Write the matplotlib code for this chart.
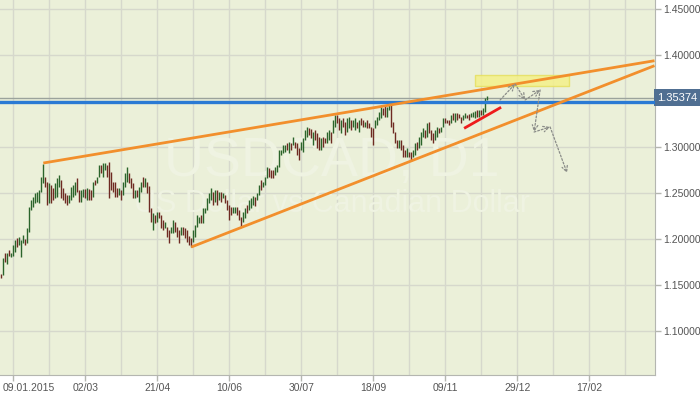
import matplotlib
matplotlib.use("Agg")
import matplotlib.pyplot as plt
from matplotlib.transforms import blended_transform_factory, ScaledTranslation

plt.rcParams['font.family'] = ['Liberation Sans', 'DejaVu Sans']

# daily USDCAD bars, 01.01.2015 .. 08.12.2015
highs = [
    1.162, 1.179, 1.185, 1.185, 1.188, 1.185, 1.193, 1.199, 1.201, 1.202,
    1.199, 1.204, 1.200, 1.212, 1.235, 1.242, 1.246, 1.250, 1.251, 1.253,
    1.267, 1.282, 1.267, 1.262, 1.261, 1.259, 1.255, 1.261, 1.266, 1.270,
    1.264, 1.255, 1.250, 1.248, 1.248, 1.257, 1.259, 1.262, 1.266, 1.253,
    1.253, 1.254, 1.254, 1.255, 1.254, 1.253, 1.262, 1.264, 1.267, 1.280,
    1.280, 1.283, 1.283, 1.280, 1.284, 1.273, 1.262, 1.262, 1.255, 1.255,
    1.253, 1.262, 1.272, 1.278, 1.272, 1.266, 1.261, 1.253, 1.253, 1.257,
    1.262, 1.267, 1.266, 1.262, 1.258, 1.234, 1.228, 1.226, 1.229, 1.229,
    1.226, 1.221, 1.218, 1.213, 1.210, 1.213, 1.221, 1.218, 1.213, 1.210,
    1.213, 1.213, 1.212, 1.210, 1.203, 1.201, 1.210, 1.215, 1.226, 1.224,
    1.226, 1.234, 1.234, 1.245, 1.250, 1.255, 1.251, 1.253, 1.253, 1.251,
    1.251, 1.250, 1.248, 1.242, 1.237, 1.235, 1.235, 1.235, 1.235, 1.232,
    1.224, 1.229, 1.234, 1.237, 1.242, 1.245, 1.247, 1.246, 1.250, 1.259,
    1.264, 1.262, 1.267, 1.278, 1.277, 1.275, 1.275, 1.278, 1.280, 1.297,
    1.297, 1.302, 1.302, 1.304, 1.305, 1.304, 1.311, 1.305, 1.304, 1.299,
    1.305, 1.310, 1.318, 1.322, 1.321, 1.320, 1.316, 1.318, 1.315, 1.311,
    1.310, 1.311, 1.310, 1.316, 1.318, 1.316, 1.329, 1.335, 1.335, 1.332,
    1.329, 1.332, 1.327, 1.332, 1.333, 1.329, 1.329, 1.332, 1.327, 1.329,
    1.332, 1.329, 1.327, 1.329, 1.326, 1.322, 1.321, 1.329, 1.333, 1.338,
    1.343, 1.342, 1.346, 1.343, 1.346, 1.346, 1.327, 1.316, 1.308, 1.308,
    1.308, 1.302, 1.297, 1.299, 1.295, 1.295, 1.297, 1.304, 1.305, 1.311,
    1.316, 1.321, 1.318, 1.326, 1.327, 1.318, 1.315, 1.318, 1.322, 1.321,
    1.322, 1.332, 1.332, 1.329, 1.329, 1.335, 1.337, 1.337, 1.337, 1.336,
    1.333, 1.335, 1.337, 1.335, 1.336, 1.337, 1.338, 1.339, 1.340, 1.340,
    1.340, 1.342, 1.353, 1.355,
]
lows = [
    1.158, 1.161, 1.175, 1.173, 1.181, 1.180, 1.181, 1.186, 1.191, 1.193,
    1.180, 1.196, 1.193, 1.196, 1.208, 1.232, 1.235, 1.239, 1.240, 1.239,
    1.251, 1.261, 1.256, 1.237, 1.239, 1.239, 1.242, 1.245, 1.246, 1.256,
    1.245, 1.242, 1.239, 1.237, 1.239, 1.242, 1.246, 1.248, 1.251, 1.240,
    1.240, 1.246, 1.245, 1.242, 1.242, 1.242, 1.246, 1.259, 1.261, 1.267,
    1.272, 1.267, 1.275, 1.267, 1.245, 1.253, 1.251, 1.246, 1.246, 1.248,
    1.242, 1.248, 1.256, 1.262, 1.261, 1.255, 1.245, 1.245, 1.246, 1.240,
    1.251, 1.256, 1.256, 1.250, 1.229, 1.218, 1.210, 1.217, 1.218, 1.223,
    1.212, 1.210, 1.212, 1.202, 1.196, 1.207, 1.207, 1.208, 1.202, 1.196,
    1.204, 1.204, 1.201, 1.197, 1.193, 1.191, 1.197, 1.202, 1.213, 1.217,
    1.217, 1.217, 1.228, 1.232, 1.239, 1.242, 1.237, 1.240, 1.237, 1.242,
    1.240, 1.245, 1.239, 1.232, 1.221, 1.226, 1.228, 1.228, 1.226, 1.221,
    1.213, 1.218, 1.223, 1.228, 1.232, 1.234, 1.237, 1.236, 1.242, 1.248,
    1.253, 1.257, 1.259, 1.266, 1.267, 1.266, 1.266, 1.270, 1.273, 1.278,
    1.291, 1.293, 1.295, 1.297, 1.293, 1.297, 1.302, 1.299, 1.291, 1.286,
    1.297, 1.295, 1.308, 1.311, 1.313, 1.310, 1.302, 1.308, 1.299, 1.297,
    1.297, 1.300, 1.304, 1.304, 1.308, 1.304, 1.315, 1.322, 1.326, 1.318,
    1.315, 1.322, 1.313, 1.316, 1.321, 1.318, 1.322, 1.318, 1.321, 1.316,
    1.324, 1.322, 1.322, 1.321, 1.321, 1.311, 1.302, 1.321, 1.324, 1.329,
    1.331, 1.335, 1.333, 1.333, 1.340, 1.322, 1.315, 1.304, 1.299, 1.299,
    1.297, 1.289, 1.289, 1.289, 1.289, 1.285, 1.289, 1.291, 1.297, 1.299,
    1.302, 1.311, 1.310, 1.311, 1.315, 1.308, 1.304, 1.308, 1.311, 1.315,
    1.316, 1.322, 1.326, 1.326, 1.324, 1.326, 1.329, 1.327, 1.329, 1.332,
    1.326, 1.329, 1.332, 1.332, 1.329, 1.333, 1.333, 1.332, 1.333, 1.333,
    1.335, 1.335, 1.338, 1.351,
]
# u = closed higher (green), d = closed lower (red)
directions = "".join([
    "dududuuudu", "uuduuuuuuu", "uuddudduuu", "dddduuuudd", "uududduduu",
    "duuddddddu", "duuudddudu", "ududddudud", "ddudduuddd", "uddddduuuu",
    "duuuuududu", "dudddduudd", "duuduuuduu", "duuuddduuu", "uuudududdd",
    "uuuudduddd", "udduuduudd", "udduuduudu", "ddudddduuu", "udduuddddu",
    "dddudduudu", "uududdduud", "uudddududd", "duudduuudu", "duuu",
])

tick_pos = [6, 42, 78, 114, 150, 186, 222, 258, 294]
tick_labels = ["09.01.2015", "02/03", "21/04", "10/06", "30/07",
               "18/09", "09/11", "29/12", "17/02"]
price_grid = [1.10, 1.15, 1.20, 1.25, 1.30, 1.35, 1.40, 1.45]
price_labels = [1.10, 1.15, 1.20, 1.25, 1.30, 1.40, 1.45]   # 1.35 sits under the price tag

last_price = 1.35374
support_level = 1.3487

# drawn objects (bar index, price)
upper_trend = [(21, 1.2826), (326.6, 1.3938)]
lower_trend = [(95, 1.1913), (326.6, 1.3884)]
short_trend = [(231.4, 1.3203), (249.9, 1.3432)]
target_box = (236.9, 284.0, 1.3663, 1.3783)
forecast = [(249.4, 1.3511), (256.9, 1.3685), (261.9, 1.3511), (269.4, 1.3620),
            (266.4, 1.3163), (274.4, 1.3218), (282.9, 1.2718)]

bg = "#ebf0d9"
fig = plt.figure(figsize=(7.0, 3.94), dpi=100)
ax = fig.add_axes([0.0, 19 / 394, 654.5 / 700, 375 / 394])
ax.set_facecolor(bg)

ax.set_xlim(-0.65, 326.6)
ax.set_ylim(1.4598 - 375 / 920, 1.4598)

# grid
for gx in range(6, 327, 18):
    ax.axvline(gx, color="#d6d8cc", lw=1.0, zorder=0)
for gy in price_grid:
    ax.axhline(gy, color="#d6d8cc", lw=1.0, zorder=0)

# watermark
wm = "#eff3e2"
ax.text(0.507, 0.568, "USDCAD, D1", transform=ax.transAxes, ha="center",
        va="center", fontsize=40, color=wm, zorder=1)
ax.text(0.507, 0.456, "US Dollar vs Canadian Dollar", transform=ax.transAxes,
        ha="center", va="center", fontsize=22, color=wm, zorder=1)

# bars
for i, (h, l, d) in enumerate(zip(highs, lows, directions)):
    c = "#2b642b" if d == "u" else "#6e2a22"
    ax.vlines(i, l, h, color=c, lw=1.0, zorder=3)

# horizontal levels
ax.axhline(last_price, color="#9ba39c", lw=1.0, zorder=2)
ax.axhline(support_level, color="#2a7ad4", lw=2.4, zorder=4)

# trend lines
for line, col in [(upper_trend, "#f28f2c"), (lower_trend, "#f28f2c"), (short_trend, "#ee1c1c")]:
    xs = [p[0] for p in line]
    ys = [p[1] for p in line]
    ax.plot(xs, ys, color=col, lw=2.0, solid_capstyle="butt", zorder=5)

x0, x1, y0, y1 = target_box
ax.fill_between([x0, x1], y0, y1, facecolor="#f4f08a", edgecolor="#e6e060",
                lw=1.0, alpha=0.85, zorder=4)

# forecast path
for (xa, ya), (xb, yb) in zip(forecast[:-1], forecast[1:]):
    ax.annotate("", xy=(xb, yb), xytext=(xa, ya),
                arrowprops=dict(arrowstyle="->", linestyle=(0, (1.5, 1.5)),
                                color="#8a8c88", lw=0.9, shrinkA=0, shrinkB=0),
                zorder=6)

# axes styling
for s in ["top", "left"]:
    ax.spines[s].set_visible(False)
for s in ["right", "bottom"]:
    ax.spines[s].set_color("#b4b6b0")
ax.yaxis.tick_right()
ax.set_yticks(price_labels)
ax.set_yticklabels([f"{v:.5f}" for v in price_labels])
ax.set_xticks(tick_pos)
ax.set_xticklabels(tick_labels)
ax.tick_params(axis="both", colors="#b4b6b0", labelcolor="#555555",
               labelsize=7.5, length=4, width=1, pad=2)

first = ax.get_xticklabels()[0]
first.set_horizontalalignment("left")
first.set_transform(first.get_transform() + ScaledTranslation(-11 / 100, 0, fig.dpi_scale_trans))

tr = blended_transform_factory(ax.transAxes, ax.transData)
ax.text(1.004, last_price, f"{last_price:.5f}", transform=tr, ha="left",
        va="center", fontsize=8, color="white",
        bbox=dict(boxstyle="square,pad=0.28", facecolor="#506f92", edgecolor="none"))

fig.savefig("out.png", dpi=100, facecolor="white")
